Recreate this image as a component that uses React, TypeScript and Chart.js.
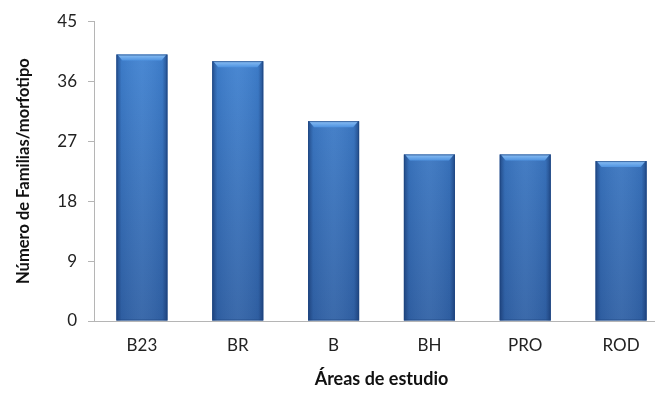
import React, { useEffect, useRef } from "react";
import { Chart, registerables } from "chart.js";

Chart.register(...registerables);

const categories = ["B23", "BR", "B", "BH", "PRO", "ROD"];
const values = [40, 39, 30, 25, 25, 24];
const yTitle = "Número de Familias/morfotipo";
const xTitle = "Áreas de estudio";

const FONT = "Lato, 'Open Sans', sans-serif";

const bevelPlugin = {
  id: "bevel",
  afterDatasetsDraw(chart: any) {
    const ctx = chart.ctx;
    chart.getDatasetMeta(0).data.forEach((bar: any) => {
      const { x, y, base, width } = bar.getProps(["x", "y", "base", "width"], true);
      const l = x - width / 2;
      const r = x + width / 2;
      ctx.save();
      const g = ctx.createLinearGradient(l, 0, r, 0);
      g.addColorStop(0, "rgba(15,40,90,0.55)");
      g.addColorStop(0.1, "rgba(15,40,90,0.08)");
      g.addColorStop(0.5, "rgba(255,255,255,0.05)");
      g.addColorStop(0.9, "rgba(15,40,90,0.08)");
      g.addColorStop(1, "rgba(15,40,90,0.55)");
      ctx.fillStyle = g;
      ctx.fillRect(l, y, width, base - y);
      const bh = 6;
      const tg = ctx.createLinearGradient(0, y, 0, y + bh);
      tg.addColorStop(0, "#8cc0f5");
      tg.addColorStop(1, "#4f93e0");
      ctx.fillStyle = tg;
      ctx.beginPath();
      ctx.moveTo(l + 1, y);
      ctx.lineTo(r - 1, y);
      ctx.lineTo(r - bh, y + bh);
      ctx.lineTo(l + bh, y + bh);
      ctx.closePath();
      ctx.fill();
      ctx.strokeStyle = "rgba(30,70,130,0.7)";
      ctx.lineWidth = 1;
      ctx.strokeRect(l + 0.5, y + 0.5, width - 1, base - y - 1);
      ctx.restore();
    });
  },
};

export default function App() {
  const ref = useRef<HTMLCanvasElement>(null);
  useEffect(() => {
    document.body.style.margin = "0";
    document.body.style.overflow = "hidden";
    const chart = new Chart(ref.current!, {
      type: "bar",
      data: {
        labels: categories,
        datasets: [
          {
            data: values,
            backgroundColor: (c: any) => {
              const area = c.chart.chartArea;
              if (!area) return "#3b78c4";
              const g = c.chart.ctx.createLinearGradient(0, area.top, 0, area.bottom);
              g.addColorStop(0, "#4286d6");
              g.addColorStop(1, "#3162a6");
              return g;
            },
            borderWidth: 0,
            barPercentage: 0.533,
            categoryPercentage: 1,
          },
        ],
      },
      options: {
        responsive: false,
        animation: false,
        layout: { padding: { left: 14, top: 19, right: 21, bottom: 0 } },
        plugins: { legend: { display: false }, tooltip: { enabled: false } },
        scales: {
          x: {
            grid: { display: false },
            border: { display: true, color: "#b5b5b5", width: 1 },
            ticks: { color: "#222", font: { family: FONT, size: 17 }, padding: 6 },
            title: {
              display: true,
              text: xTitle,
              color: "#111",
              font: { family: FONT, size: 18, weight: "bold" },
              padding: { top: 12 },
            },
            afterFit: (s: any) => {
              s.height = 73;
            },
          },
          y: {
            min: 0,
            max: 45,
            ticks: { stepSize: 9, color: "#222", font: { family: FONT, size: 17 }, padding: 11 },
            grid: { drawOnChartArea: false, drawTicks: true, tickLength: 6, color: "#b5b5b5" },
            border: { display: true, color: "#b5b5b5", width: 1 },
            title: {
              display: true,
              text: yTitle,
              color: "#111",
              font: { family: FONT, size: 16.5, weight: "bold" },
              padding: 0,
            },
            afterFit: (s: any) => {
              s.width = 80;
            },
          },
        },
      },
      plugins: [bevelPlugin],
    });
    return () => chart.destroy();
  }, []);
  return (
    <canvas
      ref={ref}
      width={690}
      height={394}
      style={{ position: "fixed", left: 0, top: 0 }}
    />
  );
}
